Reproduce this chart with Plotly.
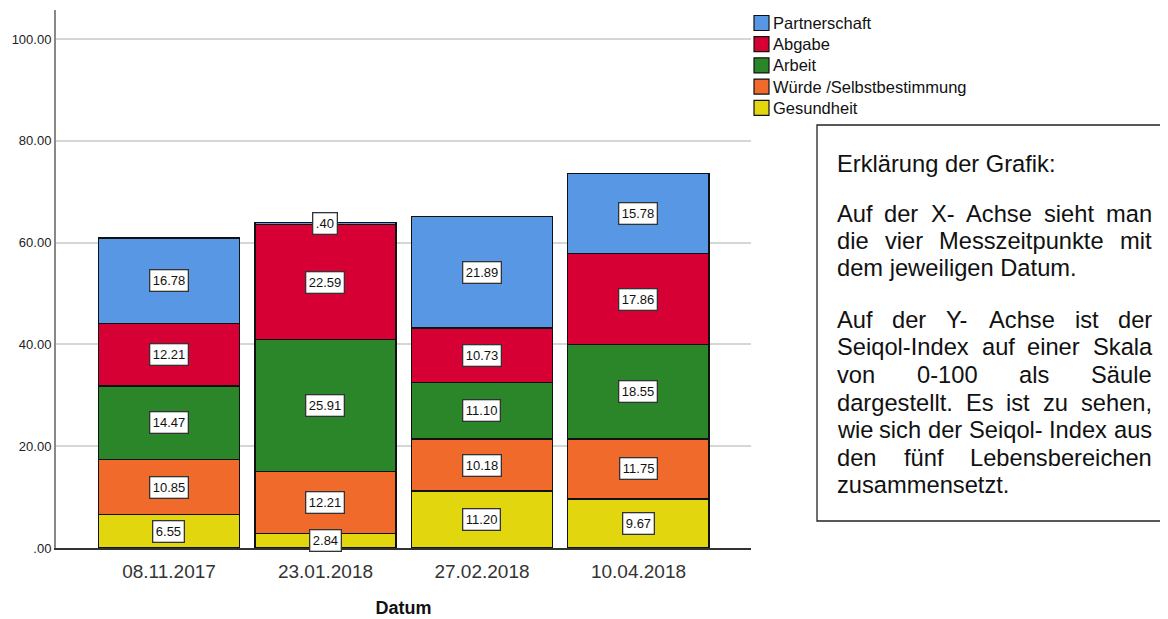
import plotly.graph_objects as go

# ---------------- data ----------------
dates = ["08.11.2017", "23.01.2018", "27.02.2018", "10.04.2018"]
series_names = ["Gesundheit", "Würde /Selbstbestimmung", "Arbeit", "Abgabe", "Partnerschaft"]
gesundheit = [6.55, 2.84, 11.20, 9.67]
wuerde = [10.85, 12.21, 10.18, 11.75]
arbeit = [14.47, 25.91, 11.10, 18.55]
abgabe = [12.21, 22.59, 10.73, 17.86]
partnerschaft = [16.78, 0.40, 21.89, 15.78]
series_values = [gesundheit, wuerde, arbeit, abgabe, partnerschaft]
series_colors = ["#E2D70F", "#F06A2B", "#2A8629", "#D70034", "#5797E4"]
y_ticks = [0, 20, 40, 60, 80, 100]
x_title = "Datum"

info_lines = [
    ("Erklärung der Grafik:", False),
    ("Auf der X- Achse sieht man", True),
    ("die vier Messzeitpunkte mit", True),
    ("dem jeweiligen Datum.", False),
    ("Auf der Y- Achse ist der", True),
    ("Seiqol-Index auf einer Skala", True),
    ("von 0-100 als Säule", True),
    ("dargestellt. Es ist zu sehen,", True),
    ("wie sich der Seiqol- Index aus", True),
    ("den fünf Lebensbereichen", True),
    ("zusammensetzt.", False),
]

# ---------------- layout helpers ----------------
OFF = 8  # page body margin
FIG_W, FIG_H = 1168 - OFF, 619 - OFF
# plot area in page pixels
L, R, T, B = 56, 751, 10, 548
PW, PH = R - L, B - T
FONT = "Liberation Sans, Arial, sans-serif"


def px_x(px):
    return (px - L) / PW


def px_y(py):
    return (B - py) / PH


def fmt(v):
    s = f"{v:.2f}"
    if s.startswith("0."):
        s = s[1:]
    return s


# Arial / Liberation Sans advance widths (1/1000 em)
W = {" ": 278, ",": 278, "-": 333, ".": 278, ":": 278,
     "A": 667, "D": 722, "E": 667, "G": 778, "I": 278, "L": 556, "M": 833,
     "S": 667, "X": 667, "Y": 667,
     "a": 556, "b": 556, "c": 500, "d": 556, "e": 556, "f": 278, "g": 556,
     "h": 556, "i": 222, "j": 222, "k": 500, "l": 222, "m": 833, "n": 556,
     "o": 556, "p": 556, "q": 556, "r": 333, "s": 500, "t": 278, "u": 556,
     "v": 500, "w": 722, "x": 500, "y": 500, "z": 500, "ä": 556, "ü": 556}
for d in "0123456789":
    W[d] = 556


def text_w(s, size):
    return sum(W.get(c, 556) for c in s) / 1000 * size


fig = go.Figure()

# stacked bars
for name, vals, col in zip(series_names, series_values, series_colors):
    fig.add_trace(go.Bar(
        x=dates, y=vals, name=name, showlegend=False,
        marker=dict(color=col, line=dict(color="#111111", width=1.5)),
        hoverinfo="x+y+name",
    ))

annotations = []
# value labels in white boxes
base = [0.0] * len(dates)
for vals in series_values:
    for i, v in enumerate(vals):
        annotations.append(dict(
            x=dates[i], y=base[i] + v / 2, xref="x", yref="y",
            text=fmt(v), showarrow=False,
            font=dict(family=FONT, size=13, color="#111111"),
            bgcolor="white", bordercolor="#333333", borderwidth=1.3, borderpad=2.5,
        ))
        base[i] += v

# custom legend (top = last series)
shapes = []
leg_y0 = 23.0
leg_dy = 21.2
for k, idx in enumerate(reversed(range(len(series_names)))):
    cy = leg_y0 + k * leg_dy
    shapes.append(dict(type="rect", xref="paper", yref="paper",
                       x0=px_x(754), x1=px_x(769), y0=px_y(cy + 7.5), y1=px_y(cy - 7.5),
                       fillcolor=series_colors[idx], line=dict(color="#111111", width=1.2)))
    annotations.append(dict(x=px_x(773), y=px_y(cy), xref="paper", yref="paper",
                            text=series_names[idx], showarrow=False,
                            xanchor="left", yanchor="middle", borderpad=0, borderwidth=0,
                            font=dict(family=FONT, size=16.5, color="#111111")))

# explanation box
shapes.append(dict(type="rect", xref="paper", yref="paper",
                   x0=px_x(817), x1=px_x(1166), y0=px_y(521), y1=px_y(125),
                   fillcolor="white", line=dict(color="#222222", width=1.3)))

TXT_SIZE = 23.7
TXT_LEFT = 837
TXT_WIDTH = 315
line_y = [164, 214, 241, 268, 320, 347.5, 375, 402.5, 430, 457.5, 485]
for (line, justify), cy in zip(info_lines, line_y):
    words = line.split(" ")
    if justify and len(words) > 1:
        total = sum(text_w(w_, TXT_SIZE) for w_ in words)
        gap = (TXT_WIDTH - total) / (len(words) - 1)
        xpos = TXT_LEFT
        for w_ in words:
            annotations.append(dict(x=px_x(xpos), y=px_y(cy), xref="paper", yref="paper",
                                    text=w_, showarrow=False, xanchor="left", yanchor="middle",
                                    borderpad=0, borderwidth=0,
                                    font=dict(family=FONT, size=TXT_SIZE, color="#111111")))
            xpos += text_w(w_, TXT_SIZE) + gap
    else:
        annotations.append(dict(x=px_x(TXT_LEFT), y=px_y(cy), xref="paper", yref="paper",
                                text=line, showarrow=False, xanchor="left", yanchor="middle",
                                borderpad=0, borderwidth=0,
                                font=dict(family=FONT, size=TXT_SIZE, color="#111111")))

fig.update_layout(
    width=FIG_W, height=FIG_H,
    margin=dict(l=L - OFF, r=FIG_W - (R - OFF), t=T - OFF, b=FIG_H - (B - OFF),
                autoexpand=False),
    paper_bgcolor="white", plot_bgcolor="white",
    barmode="stack", bargap=0.096,
    font=dict(family=FONT, color="#222222"),
    showlegend=False,
    annotations=annotations, shapes=shapes,
    xaxis=dict(
        type="category", range=[-0.722, 3.719],
        showgrid=False, zeroline=False,
        showline=True, linecolor="#333333", linewidth=1.5,
        ticks="", ticklabelstandoff=5,
        tickfont=dict(family=FONT, size=19, color="#333333"),
        title=dict(text=x_title, font=dict(family=FONT, size=18, color="#111111", weight="bold"),
                   standoff=21),
    ),
    yaxis=dict(
        range=[0, 105.7], tickvals=y_ticks, ticktext=[fmt(v) for v in y_ticks],
        showgrid=True, gridcolor="#d6d6d6", gridwidth=2,
        zeroline=False, showline=True, linecolor="#888888", linewidth=2,
        ticks="", tickfont=dict(family=FONT, size=13, color="#222222"),
    ),
)

fig.write_html("out.html")
